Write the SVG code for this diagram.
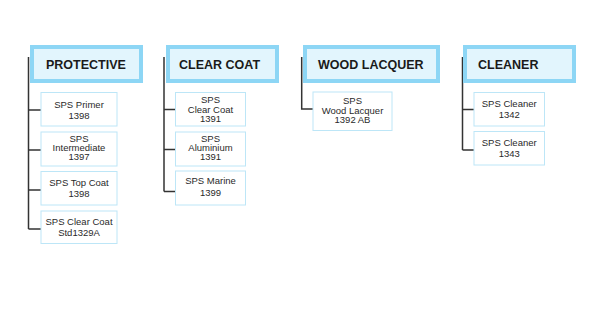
<svg xmlns="http://www.w3.org/2000/svg" width="600" height="330" viewBox="0 0 600 330">
  <style>
    .hdr { fill: #e2f5fd; stroke: #8dd6f5; stroke-width: 4; }
    .hdr-t { font-family: "Liberation Sans", Arial, sans-serif; font-weight: bold; font-size: 12.5px; fill: #1a1a1a; }
    .item { fill: #ffffff; stroke: #bde6f7; stroke-width: 1; }
    .item-t { font-family: "Liberation Sans", Arial, sans-serif; font-size: 9.5px; fill: #2a2a2a; text-anchor: middle; }
    .wire { fill: none; stroke: #333333; stroke-width: 1.5; }
  </style>
  <rect width="600" height="330" fill="#ffffff"/>

  <!-- tree connectors -->
  <g id="connectors">
    <path class="wire" d="M28.5,57 V229 M28.5,110 H41 M28.5,150 H41 M28.5,190 H41 M28.5,229 H41"/>
    <path class="wire" d="M164,57 V191.5 M164,109.5 H176 M164,149.5 H176 M164,191.5 H176"/>
    <path class="wire" d="M301.7,57 V109 H313"/>
    <path class="wire" d="M462.5,57 V150 M462.5,109.5 H474 M462.5,150 H474"/>
  </g>

  <!-- column headers -->
  <g id="hdr-protective">
    <rect class="hdr" x="32" y="47" width="109" height="34"/>
    <text class="hdr-t" x="46" y="69.3">PROTECTIVE</text>
  </g>
  <g id="hdr-clearcoat">
    <rect class="hdr" x="168" y="47" width="109" height="34"/>
    <text class="hdr-t" x="179" y="69.3">CLEAR COAT</text>
  </g>
  <g id="hdr-woodlacquer">
    <rect class="hdr" x="305" y="47" width="133" height="34"/>
    <text class="hdr-t" x="318" y="69.3">WOOD LACQUER</text>
  </g>
  <g id="hdr-cleaner">
    <rect class="hdr" x="465" y="47" width="109" height="34"/>
    <text class="hdr-t" x="478" y="69.3">CLEANER</text>
  </g>

  <!-- PROTECTIVE products -->
  <g id="sps-primer">
    <rect class="item" x="41" y="92.5" width="76" height="33.5"/>
    <text class="item-t" x="79" y="107.7">SPS Primer</text>
    <text class="item-t" x="79" y="119">1398</text>
  </g>
  <g id="sps-intermediate">
    <rect class="item" x="41" y="132" width="76" height="34"/>
    <text class="item-t" x="79" y="141.7">SPS</text>
    <text class="item-t" x="79" y="150.8">Intermediate</text>
    <text class="item-t" x="79" y="159.6">1397</text>
  </g>
  <g id="sps-topcoat">
    <rect class="item" x="41" y="171.5" width="76" height="33.5"/>
    <text class="item-t" x="79" y="185.7">SPS Top Coat</text>
    <text class="item-t" x="79" y="196.7">1398</text>
  </g>
  <g id="sps-clearcoat-std">
    <rect class="item" x="41" y="211" width="76" height="32.5"/>
    <text class="item-t" x="79" y="225">SPS Clear Coat</text>
    <text class="item-t" x="79" y="236">Std1329A</text>
  </g>

  <!-- CLEAR COAT products -->
  <g id="sps-clearcoat">
    <rect class="item" x="175.5" y="92.5" width="70" height="33.5"/>
    <text class="item-t" x="210.5" y="103.3">SPS</text>
    <text class="item-t" x="210.5" y="112.5">Clear Coat</text>
    <text class="item-t" x="210.5" y="121.7">1391</text>
  </g>
  <g id="sps-aluminium">
    <rect class="item" x="175.5" y="132" width="70" height="34"/>
    <text class="item-t" x="210.5" y="142.3">SPS</text>
    <text class="item-t" x="210.5" y="151.2">Aluminium</text>
    <text class="item-t" x="210.5" y="160">1391</text>
  </g>
  <g id="sps-marine">
    <rect class="item" x="175.5" y="171" width="70" height="34"/>
    <text class="item-t" x="210.5" y="184.3">SPS Marine</text>
    <text class="item-t" x="210.5" y="196">1399</text>
  </g>

  <!-- WOOD LACQUER products -->
  <g id="sps-woodlacquer">
    <rect class="item" x="313" y="92" width="79" height="38.5"/>
    <text class="item-t" x="352.5" y="104">SPS</text>
    <text class="item-t" x="352.5" y="113.8">Wood Lacquer</text>
    <text class="item-t" x="352.5" y="123.3">1392 AB</text>
  </g>

  <!-- CLEANER products -->
  <g id="sps-cleaner-1342">
    <rect class="item" x="474" y="92.5" width="70.5" height="33.5"/>
    <text class="item-t" x="509.2" y="106.7">SPS Cleaner</text>
    <text class="item-t" x="509.2" y="117.7">1342</text>
  </g>
  <g id="sps-cleaner-1343">
    <rect class="item" x="474" y="131.5" width="70.5" height="33.5"/>
    <text class="item-t" x="509.2" y="146">SPS Cleaner</text>
    <text class="item-t" x="509.2" y="157.3">1343</text>
  </g>
</svg>
